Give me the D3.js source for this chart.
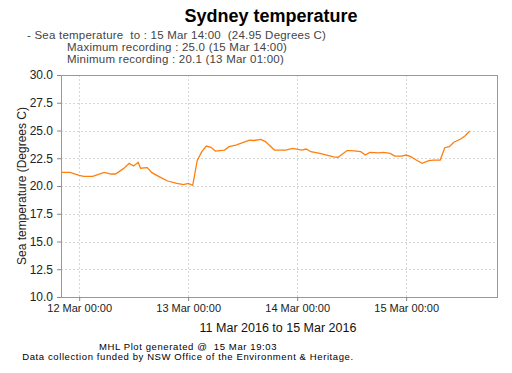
<!DOCTYPE html>
<html>
<head>
<meta charset="utf-8">
<script src="https://cdn.jsdelivr.net/npm/d3@7"></script>
<style>
  body { margin: 0; background: #fff; }
  svg { display: block; font-family: "Liberation Sans", Arial, sans-serif; }
  .grid line { stroke: #d8d8d8; stroke-dasharray: 2,2; }
  .axis path, .axis line { stroke: #888; }
  .axis text { fill: #222; }
  .info, .foot { white-space: pre; }
</style>
</head>
<body>
<svg id="chart" width="512" height="373"></svg>
<script>
// readings (time, degrees C)
const times = [
  "11 Mar 20:00", "11 Mar 22:00", "12 Mar 00:00", "12 Mar 01:00", "12 Mar 03:00",
  "12 Mar 05:30", "12 Mar 07:00", "12 Mar 08:00", "12 Mar 09:30", "12 Mar 10:00",
  "12 Mar 11:00", "12 Mar 12:00", "12 Mar 13:00", "12 Mar 13:30", "12 Mar 15:00",
  "12 Mar 16:00", "12 Mar 18:00", "12 Mar 19:30", "12 Mar 21:30", "12 Mar 23:00",
  "13 Mar 00:00", "13 Mar 01:00", "13 Mar 02:00", "13 Mar 03:00", "13 Mar 04:00",
  "13 Mar 05:00", "13 Mar 06:00", "13 Mar 08:00", "13 Mar 09:00", "13 Mar 10:30",
  "13 Mar 12:00", "13 Mar 13:30", "13 Mar 14:30", "13 Mar 16:00", "13 Mar 17:00",
  "13 Mar 18:00", "13 Mar 19:00", "13 Mar 21:30", "13 Mar 23:00", "14 Mar 01:00",
  "14 Mar 02:00", "14 Mar 03:00", "14 Mar 05:00", "14 Mar 08:00", "14 Mar 09:00",
  "14 Mar 11:00", "14 Mar 12:00", "14 Mar 14:00", "14 Mar 15:00", "14 Mar 16:00",
  "14 Mar 18:00", "14 Mar 19:00", "14 Mar 20:30", "14 Mar 21:30", "14 Mar 23:00",
  "15 Mar 00:00", "15 Mar 01:00", "15 Mar 02:30", "15 Mar 03:30", "15 Mar 05:00",
  "15 Mar 06:00", "15 Mar 07:30", "15 Mar 08:30", "15 Mar 09:30", "15 Mar 10:30",
  "15 Mar 12:00", "15 Mar 13:00", "15 Mar 14:00"
];
const temps = [
  21.23, 21.23, 20.95, 20.87, 20.87,
  21.23, 21.08, 21.08, 21.50, 21.65,
  22.04, 21.80, 22.13, 21.60, 21.65,
  21.20, 20.75, 20.45, 20.24, 20.13,
  20.24, 20.06, 22.30, 23.10, 23.60,
  23.49, 23.15, 23.24, 23.54, 23.69,
  23.90, 24.14, 24.10, 24.20, 24.00,
  23.63, 23.24, 23.24, 23.38, 23.24,
  23.33, 23.09, 22.94, 22.62, 22.59,
  23.19, 23.19, 23.09, 22.79, 23.03,
  22.98, 23.03, 22.94, 22.70, 22.70,
  22.79, 22.64, 22.28, 22.04, 22.28,
  22.34, 22.34, 23.45, 23.54, 23.94,
  24.23, 24.53, 24.95
];
const yTicks = [10, 12.5, 15, 17.5, 20, 22.5, 25, 27.5, 30];
const xTickLabels = ["12 Mar 00:00", "13 Mar 00:00", "14 Mar 00:00", "15 Mar 00:00"];
const xDomain = ["11 Mar 20:00", "15 Mar 20:00"];

const title = "Sydney temperature";
const infoLines = [
  "- Sea temperature  to : 15 Mar 14:00  (24.95 Degrees C)",
  "Maximum recording : 25.0 (15 Mar 14:00)",
  "Minimum recording : 20.1 (13 Mar 01:00)"
];
const yTitle = "Sea temperature (Degrees C)";
const xTitle = "11 Mar 2016 to 15 Mar 2016";
const footer = [
  "MHL Plot generated @  15 Mar 19:03",
  "Data collection funded by NSW Office of the Environment & Heritage."
];

const parse = d3.timeParse("%d %b %Y %H:%M");
const toDate = s => parse(s.slice(0, 6) + " 2016" + s.slice(6));
const fmt = d3.timeFormat("%d %b %H:%M");

const svg = d3.select("#chart");
const margin = { left: 61, top: 75, right: 15, bottom: 76 };
const width = 512 - margin.left - margin.right,
      height = 373 - margin.top - margin.bottom;

const x = d3.scaleTime().domain(xDomain.map(toDate)).range([0, width]);
const y = d3.scaleLinear().domain([10, 30]).range([height, 0]);

const g = svg.append("g").attr("transform", `translate(${margin.left},${margin.top})`);

const xTicks = xTickLabels.map(toDate);

// grid
const grid = g.append("g").attr("class", "grid");
grid.selectAll("line.h").data(yTicks.slice(1, -1)).join("line").attr("class", "h")
  .attr("x1", 0).attr("x2", width)
  .attr("y1", d => Math.round(y(d)) + 0.5).attr("y2", d => Math.round(y(d)) + 0.5);
grid.selectAll("line.v").data(xTicks).join("line").attr("class", "v")
  .attr("y1", 0).attr("y2", height)
  .attr("x1", d => Math.round(x(d)) + 0.5).attr("x2", d => Math.round(x(d)) + 0.5);

// plot frame
g.append("rect").attr("x", 0.5).attr("y", 0.5)
  .attr("width", width).attr("height", height)
  .attr("fill", "none").attr("stroke", "#999");

// axes
g.append("g").attr("class", "axis")
  .attr("transform", `translate(0,${height})`)
  .call(d3.axisBottom(x).tickValues(xTicks).tickFormat(fmt).tickSize(4).tickPadding(3))
  .call(a => a.selectAll("text").attr("font-size", 11))
  .call(a => a.select(".domain").remove());

g.append("g").attr("class", "axis")
  .call(d3.axisLeft(y).tickValues(yTicks).tickFormat(d3.format(".1f")).tickSize(4).tickPadding(4))
  .call(a => a.selectAll("text").attr("font-size", 12))
  .call(a => a.select(".domain").remove());

// line
const data = times.map((t, i) => ({ t: toDate(t), v: temps[i] }));
g.append("path").datum(data)
  .attr("fill", "none")
  .attr("stroke", "#ff7f0e")
  .attr("stroke-width", 1.3)
  .attr("d", d3.line().x(d => x(d.t)).y(d => y(d.v)));

// texts
svg.append("text").attr("x", 271).attr("y", 22)
  .attr("text-anchor", "middle").attr("font-size", 18).attr("font-weight", "bold")
  .attr("fill", "#000").text(title);

svg.selectAll("text.info").data(infoLines).join("text").attr("class", "info")
  .attr("x", (d, i) => i === 0 ? 27 : 67)
  .attr("y", (d, i) => 38.5 + i * 12)
  .attr("font-size", 11.5).attr("letter-spacing", 0.22).attr("fill", "#444")
  .text(d => d);

svg.append("text")
  .attr("transform", `translate(26,${margin.top + height / 2}) rotate(-90)`)
  .attr("text-anchor", "middle").attr("font-size", 12).attr("fill", "#222")
  .text(yTitle);

svg.append("text").attr("x", 278).attr("y", 332)
  .attr("text-anchor", "middle").attr("font-size", 12.5).attr("fill", "#111")
  .text(xTitle);

svg.selectAll("text.foot").data(footer).join("text").attr("class", "foot")
  .attr("x", 188).attr("y", (d, i) => 350 + i * 9.5)
  .attr("text-anchor", "middle").attr("font-size", 9.5)
  .attr("letter-spacing", 0.6).attr("fill", "#000")
  .text(d => d);
</script>
</body>
</html>
